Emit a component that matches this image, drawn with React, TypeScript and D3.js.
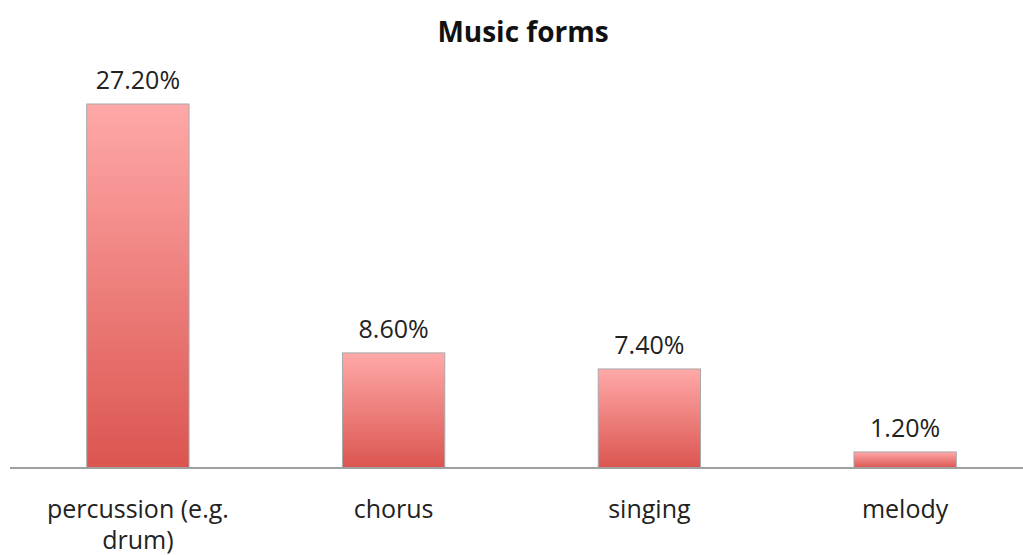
import React from "react";
import * as d3 from "d3";

const categories = ["percussion (e.g. drum)", "chorus", "singing", "melody"];
const categoryLines = [["percussion (e.g.", "drum)"], ["chorus"], ["singing"], ["melody"]];
const values = [27.2, 8.6, 7.4, 1.2];
const valueLabels = ["27.20%", "8.60%", "7.40%", "1.20%"];
const title = "Music forms";

const W = 1023;
const H = 555;
const baseY = 468;

export default function App() {
  const x = d3.scaleBand<string>().domain(categories).range([10, 1033]).paddingInner(0.6).paddingOuter(0.3);
  const y = d3.scaleLinear().domain([0, 27.2]).range([baseY, 104]);
  const font = "'Open Sans', 'Noto Sans', sans-serif";
  return (
    <svg width={W} height={H} style={{ position: "absolute", left: 0, top: 0, background: "#fff" }}>
      <defs>
        <linearGradient id="barGrad" x1="0" y1="0" x2="0" y2="1">
          <stop offset="0%" stopColor="#FFA9A8" />
          <stop offset="100%" stopColor="#DB5550" />
        </linearGradient>
      </defs>
      <text x={523} y={42} textAnchor="middle" fontFamily={font} fontWeight="bold" fontSize={28} fill="#111">
        {title}
      </text>
      {categories.map((c, i) => {
        const bx = x(c)!;
        const bw = x.bandwidth();
        const top = y(values[i]);
        return (
          <g key={c}>
            <rect x={bx} y={top} width={bw} height={baseY - top} fill="url(#barGrad)" stroke="#a8a8a8" strokeWidth={1} />
            <text x={bx + bw / 2} y={top - 15} textAnchor="middle" fontFamily={font} fontSize={25} fill="#222">
              {valueLabels[i]}
            </text>
            {categoryLines[i].map((ln, j) => (
              <text key={j} x={bx + bw / 2} y={518 + j * 31} textAnchor="middle" fontFamily={font} fontSize={25} fill="#222">
                {ln}
              </text>
            ))}
          </g>
        );
      })}
      <line x1={10} x2={W} y1={baseY} y2={baseY} stroke="#a0a0a0" strokeWidth={2} />
    </svg>
  );
}
